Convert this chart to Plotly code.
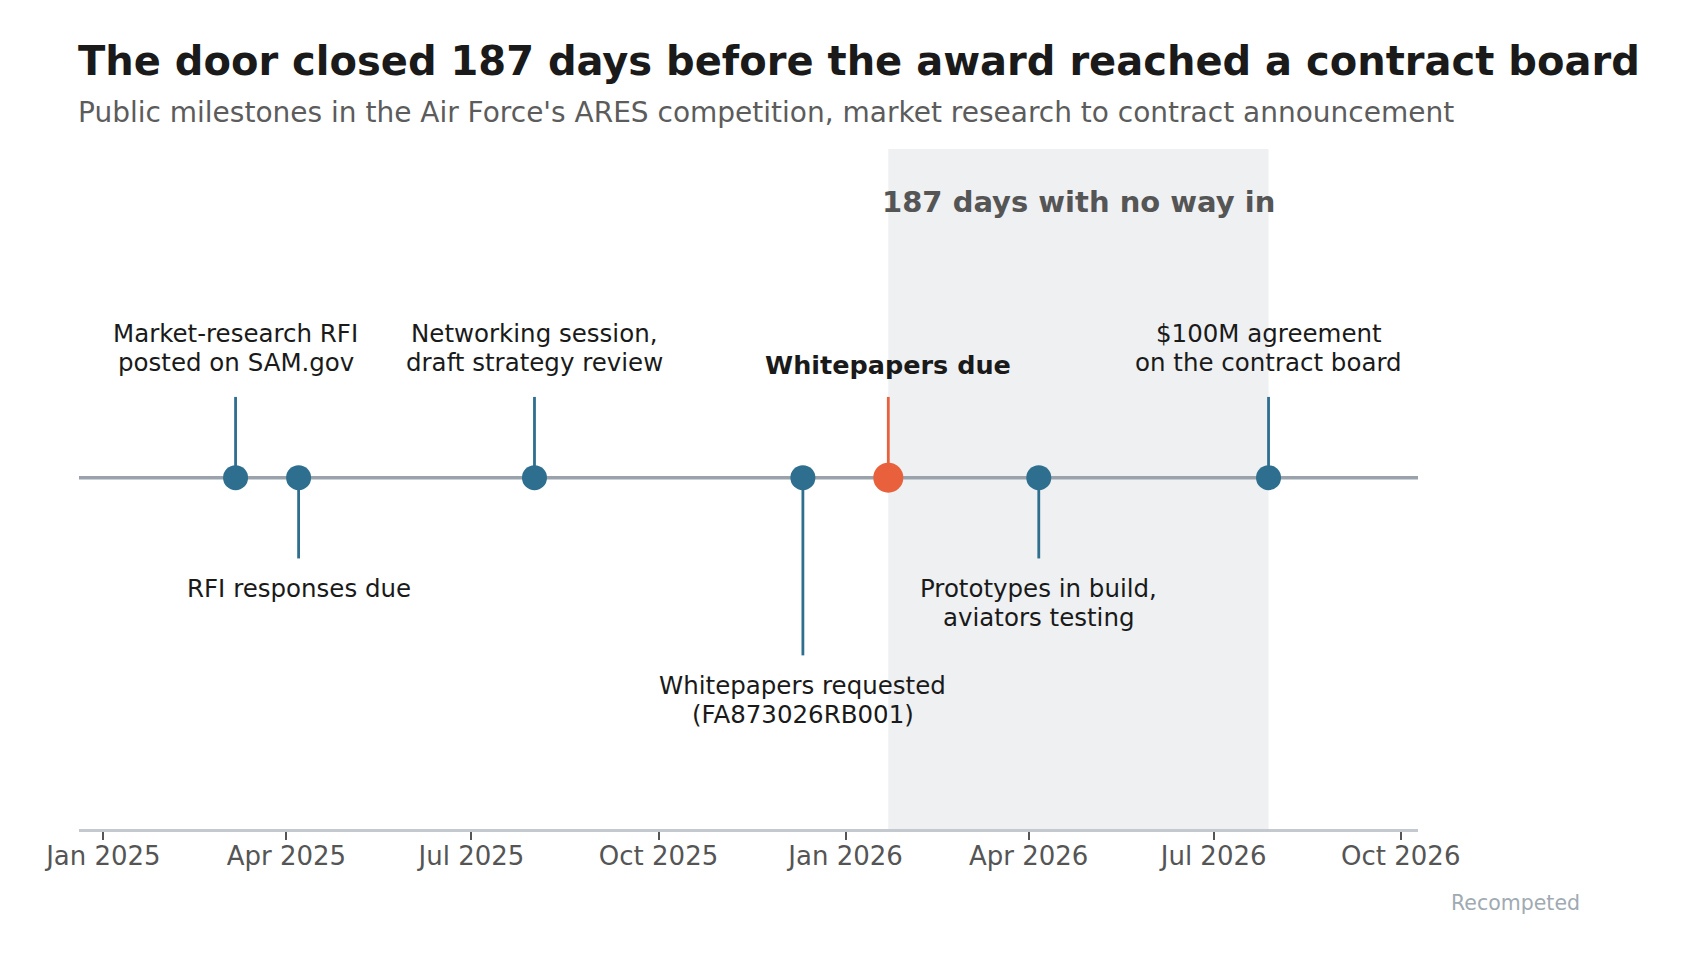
import plotly.graph_objects as go
import pandas as pd

# Milestones
dates = ["2025-03-07", "2025-04-07", "2025-08-01", "2025-12-11",
         "2026-01-22", "2026-04-06", "2026-07-28"]
labels = [
    "Market-research RFI<br>posted on SAM.gov",
    "RFI responses due",
    "Networking session,<br>draft strategy review",
    "Whitepapers requested<br>(FA873026RB001)",
    "<b>Whitepapers due</b>",
    "Prototypes in build,<br>aviators testing",
    "$100M agreement<br>on the contract board",
]
levels = [1, -1, 1, -2.2, 1, -1, 1]
highlight = [False, False, False, False, True, False, False]

tick_dates = ["2025-01-01", "2025-04-01", "2025-07-01", "2025-10-01",
              "2026-01-01", "2026-04-01", "2026-07-01", "2026-10-01"]
tick_labels = ["Jan 2025", "Apr 2025", "Jul 2025", "Oct 2025",
               "Jan 2026", "Apr 2026", "Jul 2026", "Oct 2026"]

gap_start = "2026-01-22"
gap_end = "2026-07-28"

BLUE = "#2e6e8e"
ORANGE = "#e8613c"
FONT = "DejaVu Sans"
LINE_H = 29  # px between label lines

fig = go.Figure()

# shaded window + baseline
fig.add_shape(type="rect", xref="x", yref="paper", x0=gap_start, x1=gap_end,
              y0=0, y1=1, fillcolor="#eef0f2", line_width=0, layer="below")
fig.add_shape(type="line", xref="paper", yref="y", x0=0, x1=1, y0=0, y1=0,
              line=dict(color="#9aa3ab", width=3.5), layer="below")

# stems
for hl, col in [(False, BLUE), (True, ORANGE)]:
    xs, ys = [], []
    for d, lv, h in zip(dates, levels, highlight):
        if h == hl:
            xs += [d, d, None]
            ys += [0, lv, None]
    fig.add_trace(go.Scatter(x=xs, y=ys, mode="lines",
                             line=dict(color=col, width=2.8),
                             hoverinfo="skip"))

# markers
fig.add_trace(go.Scatter(
    x=dates, y=[0] * len(dates), mode="markers",
    marker=dict(size=[30 if h else 25 for h in highlight],
                color=[ORANGE if h else BLUE for h in highlight],
                opacity=1, line_width=0),
    hovertext=[l.replace("<br>", " ") for l in labels], hoverinfo="text+x"))

# labels, one annotation per line to get tighter line spacing
for d, lab, lv, h in zip(dates, labels, levels, highlight):
    lines = lab.split("<br>")
    up = lv > 0
    n = len(lines)
    for i, line in enumerate(lines):
        if up:
            shift = (15 if h else 18) + (n - 1 - i) * LINE_H
        else:
            shift = -14 - i * LINE_H
        fig.add_annotation(x=d, y=lv, xref="x", yref="y", text=line,
                           showarrow=False, align="center",
                           yanchor="bottom" if up else "top",
                           yshift=shift,
                           font=dict(family=FONT, size=25.5 if h else 24.5,
                                     color="#1a1a1a"))

gap_mid = pd.Timestamp(gap_start) + (pd.Timestamp(gap_end) - pd.Timestamp(gap_start)) / 2
fig.add_annotation(x=gap_mid, y=0.950, xref="x", yref="paper",
                   text="<b>187 days with no way in</b>", showarrow=False,
                   font=dict(family=FONT, size=29, color="#555555"))

# title, subtitle, source
fig.add_annotation(x=-0.002, y=1.130, xref="paper", yref="paper", xanchor="left",
                   yanchor="middle", showarrow=False,
                   text="<b>The door closed 187 days before the award reached a contract board</b>",
                   font=dict(family=FONT, size=40, color="#1a1a1a"))
fig.add_annotation(x=-0.002, y=1.053, xref="paper", yref="paper", xanchor="left",
                   yanchor="middle", showarrow=False,
                   text="Public milestones in the Air Force's ARES competition, market research to contract announcement",
                   font=dict(family=FONT, size=28, color="#5c5c5c"))
fig.add_annotation(x=1.1225, y=-0.1085, xref="paper", yref="paper", xanchor="right",
                   yanchor="middle", showarrow=False, text="Recompeted",
                   font=dict(family=FONT, size=20.5, color="#a0aab2"))

fig.update_layout(
    width=1686, height=960,
    margin=dict(l=71, r=276, t=141, b=139),
    plot_bgcolor="white", paper_bgcolor="white",
    showlegend=False,
    font=dict(family=FONT),
    xaxis=dict(type="date", range=["2024-12-20", "2026-10-09 12:00"],
               tickvals=tick_dates, ticktext=tick_labels,
               ticks="outside", ticklen=8, tickwidth=1.5, tickcolor="#555555",
               ticklabelstandoff=-6,
               showline=True, linecolor="#c3c9cf", linewidth=2.5,
               showgrid=False, zeroline=False,
               tickfont=dict(family=FONT, size=26, color="#555555")),
    yaxis=dict(range=[-4.35, 4.07], visible=False, fixedrange=True),
)

fig.write_html("out.html")
